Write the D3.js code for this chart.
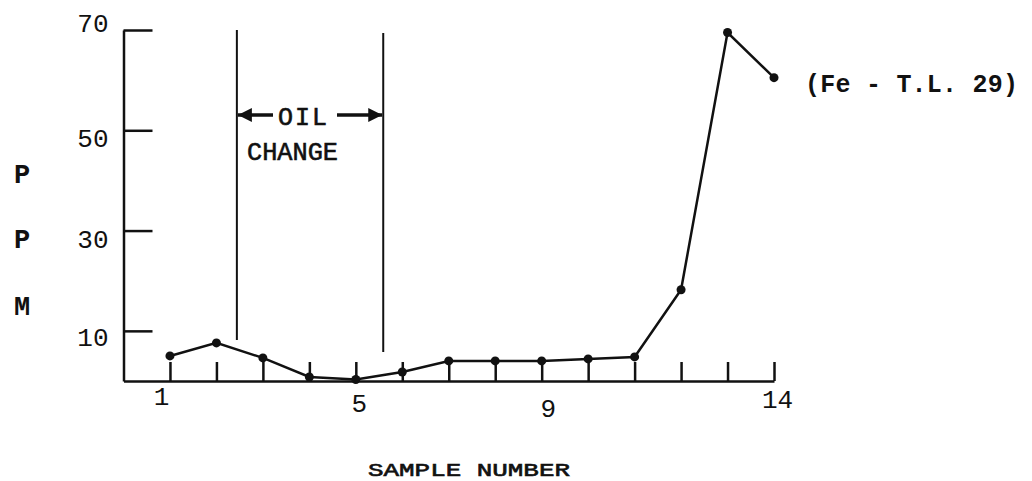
<!DOCTYPE html>
<html>
<head>
<meta charset="utf-8">
<script src="https://cdn.jsdelivr.net/npm/d3@7"></script>
<style>
  body { margin: 0; background: #fff; }
  svg { display: block; }
  text { font-family: "Liberation Mono", "DejaVu Sans Mono", monospace; fill: #111; }
</style>
</head>
<body>
<svg id="chart" width="1032" height="481"></svg>
<script>
/* ---------------- DATA ---------------- */
const samples = [1, 2, 3, 4, 5, 6, 7, 8, 9, 10, 11, 12, 13, 14];
const ppm = [5, 7.6, 4.6, 0.8, 0.3, 1.8, 4, 4, 4, 4.4, 4.8, 18.2, 69.5, 60.5];
const yTicks = [10, 30, 50, 70];
const xLabels = [1, 5, 9, 14];
const oilChange = [2.44, 5.59];   // sample positions of the two vertical lines
const seriesLabel = "(Fe - T.L. 29)";

/* ---------------- SVG SETUP ---------------- */
const svg = d3.select("#chart");
const ink = "#111";

const x = d3.scaleLinear().domain([0, 14]).range([123.5, 774]);
const y = d3.scaleLinear().domain([0, 70]).range([381, 30]);

/* typewriter labels sit a little off their ticks */
const yLabelShift = { 10: 6, 30: 8, 50: 7, 70: -8 };
const xLabelShift = { 1: [-9, 24], 5: [3, 31], 9: [6, 36], 14: [3, 27] };

/* ---------------- AXES ---------------- */
const yAxis = svg.append("g")
  .attr("transform", `translate(${x(0)},0)`)
  .call(d3.axisLeft(y).tickValues(yTicks).tickSizeInner(-29).tickSizeOuter(0).tickPadding(15));

yAxis.selectAll("text")
  .attr("font-size", 26)
  .attr("font-family", "Liberation Mono")
  .attr("fill", ink)
  .attr("y", d => yLabelShift[d])
  .attr("dy", "0.35em");

const xAxis = svg.append("g")
  .attr("transform", `translate(0,${y(0)})`)
  .call(d3.axisBottom(x).tickValues(samples).tickSizeInner(-19).tickSizeOuter(0)
    .tickFormat(d => xLabels.includes(d) ? d : ""));

xAxis.selectAll("text")
  .attr("font-size", 26)
  .attr("font-family", "Liberation Mono")
  .attr("fill", ink)
  .attr("x", d => xLabels.includes(d) ? xLabelShift[d][0] : 0)
  .attr("y", d => xLabels.includes(d) ? xLabelShift[d][1] : 0)
  .attr("dy", 0);

svg.selectAll(".domain, .tick line")
  .attr("stroke", ink)
  .attr("stroke-width", 2.5);

/* ---------------- OIL CHANGE ---------------- */
svg.selectAll(".oil")
  .data(oilChange)
  .enter()
  .append("line")
  .attr("class", "oil")
  .attr("x1", d => x(d))
  .attr("x2", d => x(d))
  .attr("y1", (d, i) => i === 0 ? 30 : 33)
  .attr("y2", (d, i) => i === 0 ? 340 : 352)
  .attr("stroke", ink)
  .attr("stroke-width", 2);

svg.append("defs").append("marker")
  .attr("id", "arrow")
  .attr("viewBox", "0 0 10 10")
  .attr("refX", 10).attr("refY", 5)
  .attr("markerWidth", 4.5).attr("markerHeight", 4)
  .attr("orient", "auto")
  .append("path")
  .attr("d", "M0,0 L10,5 L0,10 Z")
  .attr("fill", ink);

const arrowY = 115;
svg.append("line")
  .attr("x1", 273).attr("x2", x(oilChange[0]) + 1)
  .attr("y1", arrowY).attr("y2", arrowY)
  .attr("stroke", ink).attr("stroke-width", 3.5)
  .attr("marker-end", "url(#arrow)");
svg.append("line")
  .attr("x1", 337).attr("x2", x(oilChange[1]) - 1)
  .attr("y1", arrowY).attr("y2", arrowY)
  .attr("stroke", ink).attr("stroke-width", 3.5)
  .attr("marker-end", "url(#arrow)");

svg.append("text")
  .attr("x", 278).attr("y", 125)
  .attr("font-size", 25)
  .attr("stroke", ink).attr("stroke-width", 0.6)
  .attr("textLength", 49)
  .text("OIL");
svg.append("text")
  .attr("x", 247).attr("y", 160)
  .attr("font-size", 25)
  .attr("stroke", ink).attr("stroke-width", 0.6)
  .attr("textLength", 91)
  .attr("lengthAdjust", "spacingAndGlyphs")
  .text("CHANGE");

/* ---------------- SERIES ---------------- */
const points = samples.map((s, i) => ({ s, v: ppm[i] }));

svg.append("path")
  .datum(points)
  .attr("fill", "none")
  .attr("stroke", ink)
  .attr("stroke-width", 2.5)
  .attr("d", d3.line().x(d => x(d.s)).y(d => y(d.v)));

svg.selectAll(".pt")
  .data(points)
  .enter()
  .append("circle")
  .attr("class", "pt")
  .attr("cx", d => x(d.s))
  .attr("cy", d => y(d.v))
  .attr("r", 4.5)
  .attr("fill", ink);

/* ---------------- LABELS ---------------- */
svg.append("text")
  .attr("x", 805).attr("y", 92)
  .attr("font-size", 25)
  .attr("font-weight", "bold")
  .attr("textLength", 213)
  .text(seriesLabel);

svg.selectAll(".ppm")
  .data(["P", "P", "M"])
  .enter()
  .append("text")
  .attr("class", "ppm")
  .attr("x", 22)
  .attr("y", (d, i) => [183, 248, 315][i])
  .attr("text-anchor", "middle")
  .attr("font-size", 27)
  .attr("font-weight", "bold")
  .text(d => d);

svg.append("text")
  .attr("x", 368).attr("y", 476)
  .attr("font-size", 18)
  .attr("stroke", ink).attr("stroke-width", 0.6)
  .attr("textLength", 202)
  .attr("lengthAdjust", "spacingAndGlyphs")
  .text("SAMPLE NUMBER");
</script>
</body>
</html>
